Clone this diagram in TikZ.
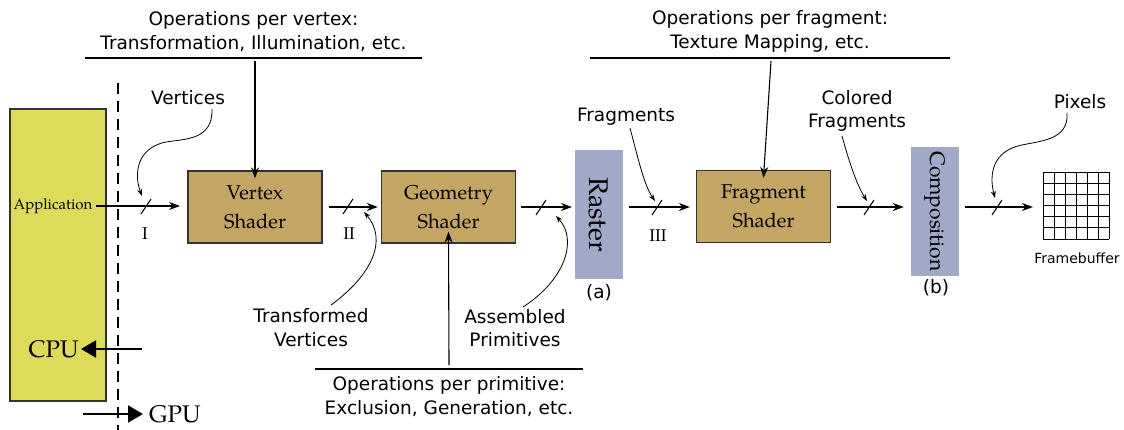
\documentclass[tikz,border=0pt]{standalone}
\usepackage{fontspec}
\setmainfont{DejaVu Sans}
\newfontfamily\pal{TeX Gyre Pagella}
\usetikzlibrary{arrows.meta,calc}

\definecolor{appfill}{RGB}{221,219,90}
\definecolor{shaderfill}{RGB}{196,165,100}
\definecolor{fixedfill}{RGB}{160,169,200}

\tikzset{
  lbl/.style={font=\fontsize{18.5}{23.5}\selectfont, align=center, inner sep=0pt},
  small/.style={font=\fontsize{14}{17}\selectfont, inner sep=0pt},
  serif/.style={font=\pal\fontsize{#1}{#1}\selectfont, inner sep=0pt},
  shaderbox/.style={draw=black!80, line width=1.3pt, fill=shaderfill,
    minimum width=134pt, minimum height=72pt, inner sep=0pt, align=center,
    font=\pal\fontsize{20}{29}\selectfont},
  fixedbox/.style={fill=fixedfill, inner sep=0pt},
  flow/.style={line width=1.1pt, -{Stealth[length=11pt,width=8pt]}},
  note/.style={line width=0.8pt, -{Stealth[length=7pt,width=5pt]}},
  bar/.style={line width=1.3pt},
  tick/.style={line width=1pt},
  bigflow/.style={line width=2pt, -{Triangle[length=15pt,width=17pt]}},
}

\begin{document}
\begin{tikzpicture}[x=1pt, y=-1pt]
\useasboundingbox (0,0) rectangle (1124,430);

% CPU side
\node[draw=black!80, line width=1.2pt, fill=appfill, minimum width=96pt,
  minimum height=292pt, inner sep=0pt] (appbox) at (58,255) {};
\node[serif=15] (app) at (53,206) {Application};
\node[serif=24, anchor=east] (cpu) at (79,349) {CPU};
\node[serif=24, anchor=west] (gpu) at (149,414) {GPU};
\coordinate (cpuin) at (142,349);
\coordinate (gpuout) at (83,414);
\draw[bigflow, shorten >=2pt] (cpuin) -- (cpu.east);
\draw[bigflow, shorten >=6pt] (gpuout) -- (gpu.west);

% CPU / GPU boundary
\coordinate (sepT) at (118,83);
\coordinate (sepB) at (118,430);
\draw[line width=1.3pt, dash pattern=on 11pt off 7pt] (sepT) -- (sepB);

% programmable stages
\node[shaderbox] (vs) at (255,207) {Vertex\\Shader};
\node[shaderbox] (gs) at (448.5,207) {Geometry\\Shader};
\node[shaderbox] (fs) at (763.5,206.5) {Fragment\\Shader};

% fixed stages
\node[fixedbox, minimum width=48pt, minimum height=129pt] (raster) at (599,214.5) {};
\node[serif=27, rotate=-90] at (raster.center) {Raster};
\node[fixedbox, minimum width=48pt, minimum height=129pt] (comp) at (935,211.5) {};
\node[serif=21, rotate=-90] at (comp.center) {Composition};
\node[lbl] (capa) at (599,293) {(a)};
\node[lbl] (capb) at (936,288) {(b)};

% framebuffer: 6 x 6 cells
\coordinate (fbA) at (1043,172);
\coordinate (fbB) at (1109,239);
\foreach \i in {0,...,6} {
  \draw[line width=0.9pt] ($(fbA)+(11*\i,0)$) -- ($(fbA)+(11*\i,67)$);
  \draw[line width=0.9pt] ($(fbA)+(0,67*\i/6)$) -- ($(fbA)+(66,67*\i/6)$);
}
\node[small] (fb) at (1077,258) {Framebuffer};

% pipeline flow
\coordinate (a1) at (180,206);
\draw[flow] (app.east) ++(3pt,0) -- (a1);
\draw[flow] ([xshift=6pt]vs.east) -- ([xshift=-3pt]gs.west);
\draw[flow] ([xshift=5pt]gs.east |- 0,207) -- (572,207) coordinate (a3);
\draw[flow] (629,207) coordinate (a4s) -- ([xshift=-6pt]fs.west |- 0,207);
\draw[flow] ([xshift=6pt]fs.east |- 0,207) -- ([xshift=-7pt]comp.west |- 0,207);
\draw[flow] ([xshift=6pt]comp.east |- 0,207) -- ([xshift=-10pt]fbA |- 0,207);

% bundle ticks
\coordinate (t1) at (146,206);
\coordinate (t2) at (348,206);
\coordinate (t3) at (541,207);
\coordinate (t4) at (657,207);
\coordinate (t5) at (869,207);
\coordinate (t6) at (997,207);
\foreach \t in {t1,t2,t3,t4,t5,t6}
  \draw[tick] ([shift={(-5pt,-8pt)}]\t) -- ([shift={(5pt,7pt)}]\t);

\node[serif=17] (n1) at (145,234) {I};
\node[serif=17] (n2) at (349,234) {II};
\node[serif=17] (n3) at (658,236) {III};

% per-stage operations
\node[lbl] (opv) at (253.5,31.5) {Operations per vertex:\\Transformation, Illumination, etc.};
\coordinate (opvL) at (85,58);
\coordinate (opvR) at (422,58);
\draw[bar] (opvL) -- (opvR);
\draw[flow] (255,61) coordinate (opvT) -- ([yshift=-8pt]vs.north);

\node[lbl] (opf) at (770,31.5) {Operations per fragment:\\Texture Mapping, etc.};
\coordinate (opfL) at (590,58);
\coordinate (opfR) at (950,58);
\draw[bar] (opfL) -- (opfR);
\draw[flow] (771,61) coordinate (opfT) -- ([yshift=-8pt]fs.north);

\node[lbl] (opp) at (449,396.5) {Operations per primitive:\\Exclusion, Generation, etc.};
\coordinate (oppL) at (315,369);
\coordinate (oppR) at (583,369);
\draw[bar] (oppL) -- (oppR);
\draw[flow] (449,365) coordinate (oppT) -- ([yshift=12pt]gs.south);

% data labels
\node[lbl] (lv) at (188,98) {Vertices};
\draw[note] (212,109) .. controls (213,140) and (185,139) .. (166,142)
  .. controls (136,148) and (134,175) .. (142,196);

\node[lbl] (ltv) at (311,327.5) {Transformed\\Vertices};
\draw[note] (331,305) .. controls (372,275) and (388,240) .. (364,212);

\node[lbl] (lap) at (515,328) {Assembled\\Primitives};
\draw[note] (523,307) .. controls (565,280) and (578,240) .. (556,216);

\node[lbl] (lf) at (626,117) {Fragments};
\draw[note] (630,128) .. controls (638,158) and (644,185) .. (655,201);

\node[lbl] (lcf) at (857,111) {Colored\\Fragments};
\draw[note] (842,136) .. controls (850,165) and (857,185) .. (867,201);

\node[lbl] (lp) at (1080,102) {Pixels};
\draw[note] (1067,113) .. controls (1069,140) and (1040,141) .. (1022,145)
  .. controls (992,151) and (989,175) .. (995,198);
\end{tikzpicture}
\end{document}
